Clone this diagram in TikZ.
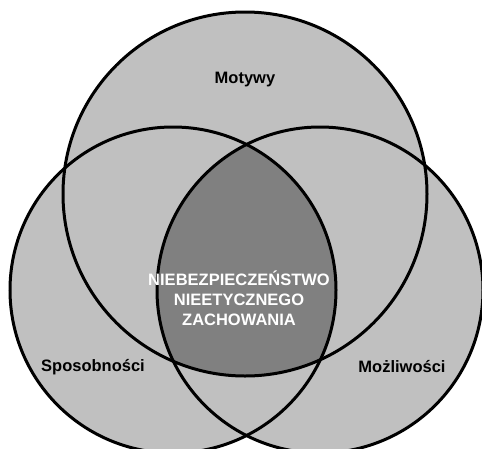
\documentclass[tikz,border=0pt]{standalone}
\usepackage{fontspec}
\setmainfont{Liberation Sans}
\definecolor{lightset}{HTML}{C0C0C0}
\definecolor{darkset}{HTML}{808080}
\begin{document}
\begin{tikzpicture}[x=1pt,y=-1pt,
    label text/.style={font=\bfseries\fontsize{16.5}{20}\selectfont, text=black},
    core text/.style={font=\bfseries\fontsize{16.5}{20}\selectfont, text=white, align=center}]
    \useasboundingbox (0,0) rectangle (482,448);
    \clip (0,0) rectangle (482,448);

    % Centres of the three sets
    \coordinate (motives) at (245,194);
    \coordinate (abilities) at (173,290);
    \coordinate (chances) at (320,290);

    % Fill the three circles
    \fill[lightset] (motives) circle (182);
    \fill[lightset] (abilities) circle (163);
    \fill[lightset] (chances) circle (163);

    % Darken the common part of all three
    \begin{scope}
        \clip (motives) circle (182);
        \clip (abilities) circle (163);
        \fill[darkset] (chances) circle (163);
    \end{scope}

    % Draw the outlines
    \draw[line width=3pt] (motives) circle (182);
    \draw[line width=3pt] (abilities) circle (163);
    \draw[line width=3pt] (chances) circle (163);

    % Add the labels
    \node[label text] (motivesLabel) at (245,80) {Motywy};
    \node[label text] (abilitiesLabel) at (93,367) {Sposobności};
    \node[label text] (chancesLabel) at (402,367) {Możliwości};
    \node[core text] (risk) at (239,298) {NIEBEZPIECZEŃSTWO\\NIEETYCZNEGO\\ZACHOWANIA};

\end{tikzpicture}
\end{document}
